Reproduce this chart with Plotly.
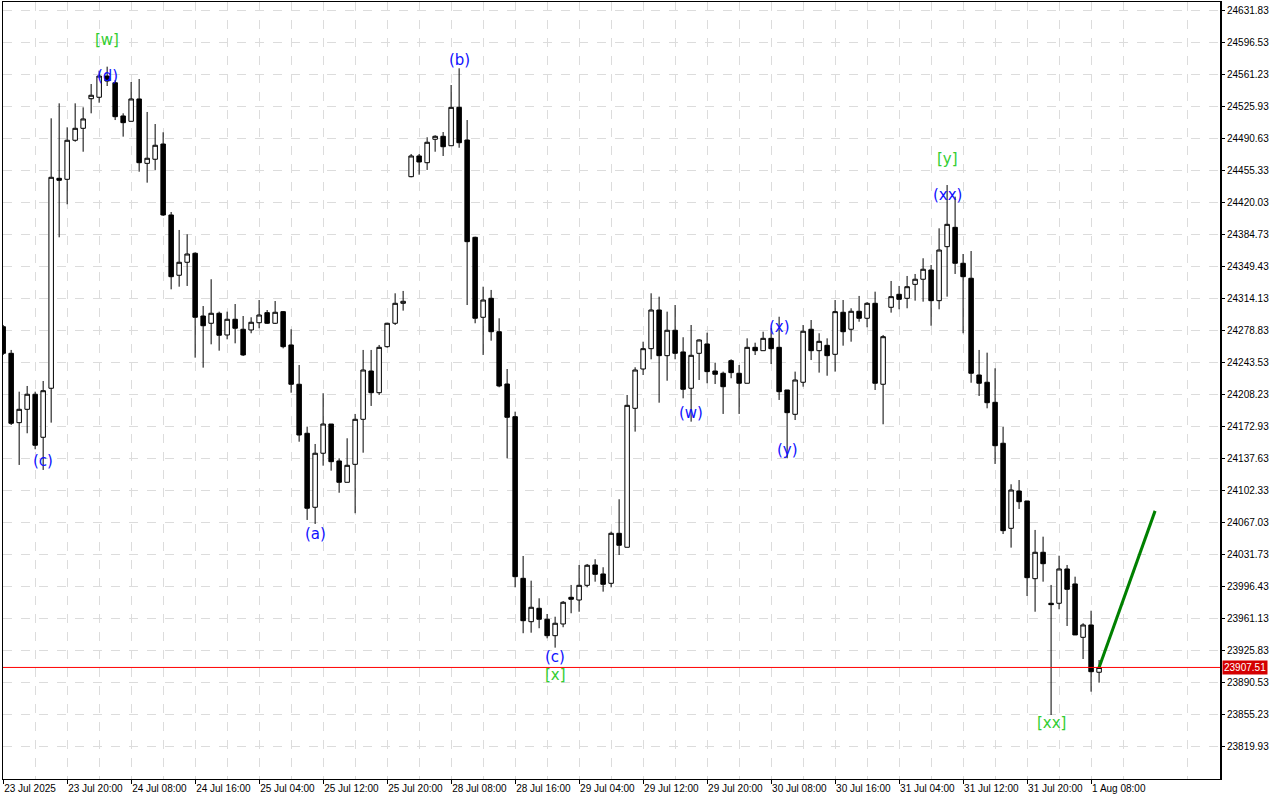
import plotly.graph_objects as go

# ---- data (H1 bars, index 0..137) ----
opens = [24282.9, 24253.6, 24177.2, 24191.9, 24208.5, 24161.1, 24215.1, 24446.4, 24445.3, 24488.3,
         24501.5, 24534.1, 24535.7, 24559.1, 24551.7, 24515.1, 24509.2, 24533.8, 24462.9, 24467.4,
         24484.2, 24406.0, 24339.6, 24353.9, 24363.8, 24294.7, 24286.7, 24297.7, 24273.8, 24291.1,
         24280.1, 24279.3, 24287.3, 24298.4, 24286.7, 24299.5, 24262.8, 24219.5, 24165.5, 24084.0,
         24143.5, 24175.7, 24135.0, 24111.5, 24131.3, 24180.9, 24234.1, 24210.2, 24260.9, 24286.7,
         24308.7, 24448.2, 24471.0, 24463.6, 24489.4, 24492.7, 24482.3, 24524.6, 24488.6, 24381.4,
         24293.3, 24314.2, 24277.4, 24219.8, 24183.8, 24005.7, 23957.9, 23972.7, 23960.6, 23942.5,
         23955.4, 23984.8, 23981.8, 23998.0, 24020.4, 24010.5, 24000.2, 24055.3, 24039.9, 24193.0,
         24236.3, 24258.7, 24301.3, 24251.0, 24279.0, 24255.1, 24215.1, 24253.6, 24263.9, 24234.1,
         24231.6, 24245.5, 24231.6, 24220.6, 24260.2, 24256.5, 24270.1, 24260.2, 24213.2, 24186.4,
         24221.7, 24280.1, 24256.5, 24262.4, 24252.5, 24298.8, 24280.1, 24299.9, 24292.2, 24308.7,
         24219.5, 24304.3, 24318.6, 24314.2, 24329.6, 24335.2, 24345.4, 24311.6, 24371.1, 24392.4,
         24352.8, 24336.3, 24229.7, 24221.7, 24199.6, 24154.5, 24060.8, 24101.9, 24090.9, 24005.3,
         24034.4, 23978.2, 23978.2, 24016.0, 23999.5, 23940.7, 23954.3, 23902.2]

highs = [24284.8, 24257.3, 24211.3, 24217.6, 24211.3, 24223.1, 24512.5, 24529.0, 24502.6, 24529.0,
         24524.6, 24550.3, 24565.0, 24569.4, 24554.7, 24518.0, 24552.5, 24555.8, 24519.5, 24506.2,
         24497.1, 24409.3, 24389.5, 24384.7, 24364.9, 24305.7, 24335.2, 24299.5, 24299.5, 24307.9,
         24294.7, 24293.3, 24312.3, 24301.3, 24311.2, 24300.2, 24280.1, 24240.7, 24172.8, 24153.7,
         24209.6, 24175.7, 24137.9, 24160.0, 24186.8, 24257.3, 24257.3, 24262.8, 24287.3, 24319.7,
         24322.3, 24473.2, 24473.2, 24491.6, 24493.8, 24497.4, 24549.2, 24567.6, 24510.6, 24382.1,
         24327.0, 24323.4, 24292.2, 24236.3, 24189.3, 24030.3, 24003.1, 23983.7, 23966.4, 23963.4,
         23980.7, 23998.4, 24020.4, 24021.5, 24026.7, 24017.9, 24057.1, 24092.8, 24207.7, 24238.2,
         24266.4, 24319.7, 24316.0, 24299.5, 24306.8, 24271.3, 24284.8, 24269.0, 24276.3, 24243.3,
         24233.4, 24247.0, 24240.7, 24270.1, 24265.3, 24277.4, 24281.2, 24293.9, 24213.2, 24233.4,
         24284.8, 24290.3, 24275.7, 24270.1, 24312.3, 24312.3, 24303.2, 24316.8, 24310.0, 24321.5,
         24273.8, 24333.3, 24327.8, 24338.8, 24341.0, 24358.3, 24350.9, 24391.3, 24439.0, 24426.2,
         24363.0, 24366.3, 24257.3, 24254.3, 24237.1, 24172.8, 24109.3, 24114.0, 24090.9, 24059.0,
         24051.6, 23998.4, 24030.6, 24020.4, 24007.5, 23956.2, 23970.0, 23915.7]

lows = [24251.7, 24174.6, 24130.6, 24165.5, 24147.9, 24125.1, 24177.2, 24381.4, 24417.8, 24486.7,
        24475.7, 24518.0, 24529.7, 24548.1, 24510.6, 24492.3, 24509.2, 24453.7, 24441.6, 24455.6,
        24404.9, 24324.1, 24327.0, 24327.8, 24248.8, 24237.8, 24263.5, 24256.5, 24269.0, 24264.6,
        24250.6, 24275.7, 24281.2, 24285.9, 24285.9, 24259.1, 24210.2, 24156.2, 24070.0, 24065.6,
        24129.8, 24124.3, 24100.0, 24111.5, 24077.4, 24144.1, 24195.6, 24207.7, 24259.8, 24284.8,
        24300.6, 24447.5, 24450.4, 24455.6, 24475.7, 24471.0, 24482.3, 24480.1, 24306.8, 24286.7,
        24251.8, 24267.5, 24216.2, 24137.9, 23995.8, 23945.2, 23945.8, 23950.7, 23939.6, 23929.3,
        23951.8, 23967.2, 23968.9, 23995.8, 24002.0, 23991.0, 23995.8, 24031.4, 24039.9, 24167.3,
        24229.7, 24247.0, 24199.2, 24223.4, 24247.0, 24204.0, 24178.3, 24224.2, 24220.6, 24219.8,
        24186.8, 24226.1, 24186.8, 24220.6, 24251.7, 24256.5, 24241.8, 24202.2, 24137.9, 24180.1,
        24216.8, 24246.2, 24232.3, 24228.9, 24233.4, 24262.0, 24266.4, 24288.4, 24282.3, 24213.2,
        24175.4, 24298.4, 24302.1, 24303.2, 24311.6, 24310.5, 24284.0, 24302.1, 24316.0, 24341.0,
        24275.7, 24221.2, 24206.6, 24193.0, 24131.7, 24054.5, 24039.5, 24082.1, 23986.2, 23968.9,
        24002.0, 23855.1, 23971.6, 23953.2, 23943.3, 23916.8, 23880.8, 23890.7]

closes = [24253.6, 24176.5, 24191.9, 24208.5, 24152.3, 24212.4, 24447.5, 24444.2, 24488.3, 24501.5,
          24511.8, 24537.9, 24559.1, 24553.6, 24514.3, 24507.7, 24533.8, 24463.6, 24468.5, 24482.8,
          24406.0, 24338.0, 24353.9, 24363.0, 24293.3, 24284.0, 24297.7, 24273.5, 24291.1, 24281.2,
          24251.8, 24287.8, 24295.8, 24286.7, 24298.8, 24260.9, 24219.5, 24163.6, 24082.9, 24143.5,
          24175.7, 24134.2, 24111.5, 24130.2, 24180.9, 24235.2, 24210.2, 24260.2, 24286.7, 24308.7,
          24310.9, 24471.0, 24464.4, 24486.1, 24492.7, 24481.2, 24524.6, 24485.6, 24376.6, 24292.2,
          24312.3, 24277.4, 24217.6, 24183.1, 24007.5, 23959.0, 23973.8, 23960.6, 23942.5, 23956.2,
          23979.3, 23982.6, 23998.0, 24020.1, 24010.1, 23999.1, 24055.3, 24042.1, 24196.3, 24235.2,
          24258.7, 24301.3, 24251.0, 24279.0, 24253.6, 24214.0, 24251.4, 24268.3, 24233.4, 24230.5,
          24216.8, 24232.3, 24220.6, 24260.2, 24256.5, 24270.1, 24258.7, 24211.3, 24188.2, 24224.2,
          24277.9, 24256.5, 24266.8, 24251.0, 24299.5, 24277.4, 24299.9, 24292.2, 24308.7, 24220.6,
          24271.9, 24316.0, 24313.1, 24327.0, 24335.2, 24346.2, 24311.6, 24367.4, 24395.7, 24352.8,
          24338.0, 24231.6, 24220.6, 24199.2, 24151.8, 24058.2, 24103.0, 24090.1, 24006.4, 24034.4,
          24021.8, 23976.7, 24016.0, 23993.6, 23943.3, 23954.3, 23902.8, 23907.51]

bar_index = list(range(len(closes)))

# time-axis labels (every 8 bars)
time_tick_bars = [0, 8, 16, 24, 32, 40, 48, 56, 64, 72, 80, 88, 96, 104, 112, 120, 128, 136]
time_tick_labels = ["23 Jul 2025", "23 Jul 20:00", "24 Jul 08:00", "24 Jul 16:00", "25 Jul 04:00",
                    "25 Jul 12:00", "25 Jul 20:00", "28 Jul 08:00", "28 Jul 16:00", "29 Jul 04:00",
                    "29 Jul 12:00", "29 Jul 20:00", "30 Jul 08:00", "30 Jul 16:00", "31 Jul 04:00",
                    "31 Jul 12:00", "31 Jul 20:00", "1 Aug 08:00"]
grid_bars = [4, 12, 20, 28, 36, 44, 52, 60, 68, 76, 84, 92, 100, 108, 116, 124, 132, 140, 148]

price_ticks = [24631.83, 24596.53, 24561.23, 24525.93, 24490.63, 24455.33, 24420.03, 24384.73,
               24349.43, 24314.13, 24278.83, 24243.53, 24208.23, 24172.93, 24137.63, 24102.33,
               24067.03, 24031.73, 23996.43, 23961.13, 23925.83, 23890.53, 23855.23, 23819.93]

current_price = 23907.51

# projected move
proj_x = [137, 144]
proj_y = [23907.51, 24080.0]

# wave labels
minor_labels = ["(c)", "(d)", "(a)", "(b)", "(c)", "(w)", "(x)", "(y)", "(xx)"]
minor_x = [5, 13, 39, 57, 69, 86, 97, 98, 118]
minor_y = [24135.0, 24559.1, 24054.5, 24576.8, 23919.0, 24187.9, 24282.6, 24147.1, 24428.0]

major_labels = ["[w]", "[x]", "[y]", "[xx]"]
major_x = [13, 69, 118, 131]
major_y = [24598.8, 23899.2, 24467.7, 23846.3]

# ---- figure ----
fig = go.Figure()

fig.add_trace(go.Candlestick(
    x=bar_index, open=opens, high=highs, low=lows, close=closes,
    increasing=dict(line=dict(color="black", width=1), fillcolor="white"),
    decreasing=dict(line=dict(color="black", width=1), fillcolor="black"),
    whiskerwidth=0, hoverinfo="skip", showlegend=False,
))

fig.add_trace(go.Scatter(
    x=proj_x, y=proj_y, mode="lines",
    line=dict(color="#008000", width=3), hoverinfo="skip", showlegend=False,
))

fig.add_hline(y=current_price, line=dict(color="#ff0000", width=1))

font_wave = "DejaVu Sans"
for t, x, y in zip(minor_labels, minor_x, minor_y):
    fig.add_annotation(x=x, y=y, text=t, showarrow=False,
                       font=dict(family=font_wave, size=15, color="#1010ff"))
for t, x, y in zip(major_labels, major_x, major_y):
    fig.add_annotation(x=x, y=y, text=t, showarrow=False,
                       font=dict(family=font_wave, size=15, color="#32cd32"))

# price label on the axis
fig.add_annotation(xref="paper", x=1.0, xanchor="left", y=current_price, yref="y",
                   text=f"{current_price:.2f}", showarrow=False, xshift=1,
                   font=dict(family="Liberation Sans", size=10, color="white"),
                   bgcolor="#d40000", borderpad=1)

# thicker right frame line
fig.add_shape(type="line", xref="paper", yref="paper", x0=1, x1=1, y0=0, y1=1,
              line=dict(color="black", width=2))

fig.update_layout(
    width=1280, height=800,
    margin=dict(l=3, r=59, t=2, b=21),
    paper_bgcolor="white", plot_bgcolor="white",
    boxgap=0.25, boxgroupgap=0.25,
    showlegend=False,
    xaxis=dict(
        range=[-0.02, 152.24],
        rangeslider=dict(visible=False),
        tickmode="array", tickvals=time_tick_bars, ticktext=time_tick_labels,
        ticklabelposition="outside right",
        ticks="outside", ticklen=4, tickcolor="black",
        tickfont=dict(family="Liberation Sans", size=10, color="black"),
        showgrid=True, gridcolor="#dcdcdc", griddash="dash", gridwidth=1,
        minor=dict(tickvals=grid_bars, showgrid=True, gridcolor="#dcdcdc",
                   griddash="dash", gridwidth=1, ticks=""),
        showline=True, linecolor="black", linewidth=1, mirror=True,
        zeroline=False, fixedrange=True,
    ),
    yaxis=dict(
        side="right",
        range=[23784.6, 24640.65],
        tickmode="array", tickvals=price_ticks,
        ticktext=[f"{v:.2f}" for v in price_ticks],
        ticks="outside", ticklen=3, tickcolor="black",
        tickfont=dict(family="Liberation Sans", size=10, color="black"),
        showgrid=True, gridcolor="#dcdcdc", griddash="dash", gridwidth=1,
        showline=True, linecolor="black", linewidth=1, mirror=True,
        zeroline=False, fixedrange=True,
    ),
)

fig.write_html("out.html", config={"displayModeBar": False},
               post_script="document.body.style.margin='0';document.body.style.padding='0';")
